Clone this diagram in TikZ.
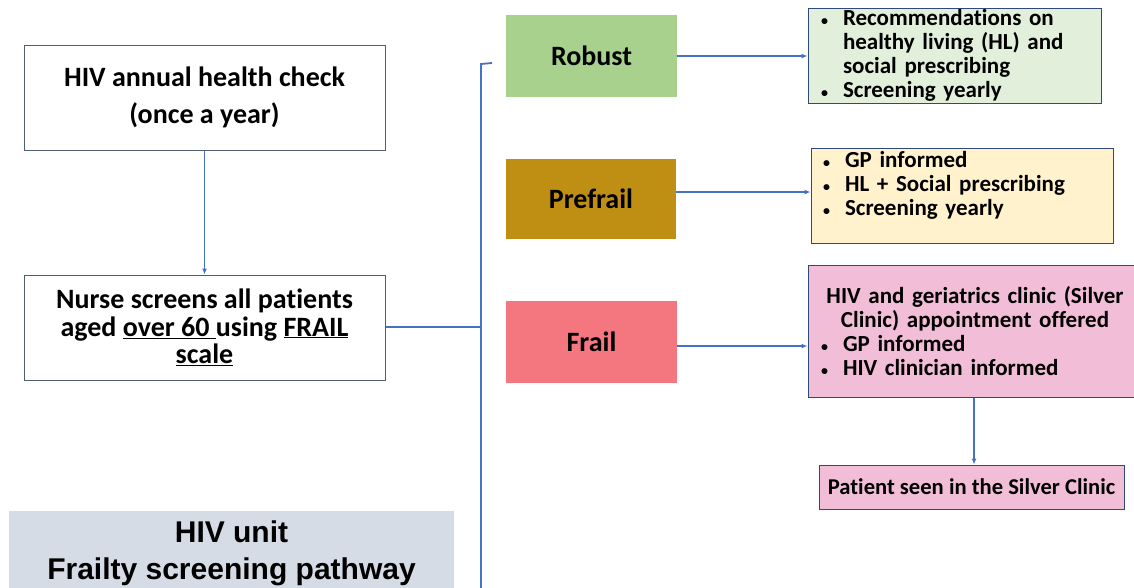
\documentclass[tikz,border=0pt]{standalone}
\usepackage{fontspec}
\setmainfont{Carlito}[Ligatures=NoCommon]
\newfontfamily\titlefont{Liberation Sans}
\usetikzlibrary{arrows.meta,calc}
\definecolor{lineblue}{HTML}{4472C4}
\definecolor{boxgray}{HTML}{4F5F73}
\definecolor{darkedge}{HTML}{2F4A7A}
\definecolor{robfill}{HTML}{A9D18E}
\definecolor{prefill}{HTML}{BF8F14}
\definecolor{frafill}{HTML}{F4777F}
\definecolor{robout}{HTML}{E2EFDA}
\definecolor{preout}{HTML}{FFF2CC}
\definecolor{fraout}{HTML}{F2BDD6}
\definecolor{titlefill}{HTML}{D6DCE5}
\newcommand\bulitem{\makebox[25pt][l]{\hspace*{3pt}{\fontsize{14}{14}\selectfont •}}}
\begin{document}
\begin{tikzpicture}[x=1pt,y=-1pt,
  mainbox/.style={draw=boxgray, line width=1pt, fill=white, minimum width=361pt, minimum height=105pt, inner sep=0pt, align=center, font=\bfseries\fontsize{28}{37}\selectfont},
  catbox/.style={draw=none, inner sep=0pt, minimum width=171pt, minimum height=82pt, font=\bfseries\fontsize{28}{34}\selectfont},
  outbox/.style={draw=darkedge, line width=1pt, inner ysep=0pt, align=left, font=\bfseries\fontsize{23}{24}\selectfont},
  arr/.style={draw=lineblue, line width=1.8pt, -{Latex[length=6pt,width=5pt]}},
  conn/.style={draw=lineblue, line width=1.8pt}
]
\useasboundingbox (0,0) rectangle (1134,587);
\clip (0,0) rectangle (1134,587);

% left boxes
\node[mainbox] (b1) at (204.5,97.5) {HIV annual health check\\(once a year)};
\node[mainbox, font=\bfseries\fontsize{28}{27.5}\selectfont] (b2) at (204.5,327.5) {Nurse screens all patients\\aged \underline{over 60\ }using \underline{FRAIL}\\\underline{scale}};

% title
\node[fill=titlefill, draw=none, minimum width=445pt, minimum height=84pt, inner sep=0pt, align=center, font=\titlefont\bfseries\fontsize{30}{37}\selectfont] (title) at (231.5,553) {HIV unit\\Frailty screening pathway};

% categories
\node[catbox, fill=robfill] (rob) at (591.5,56) {Robust};
\node[catbox, fill=prefill, minimum width=170pt, minimum height=80pt] (pre) at (591,199) {Prefrail};
\node[catbox, fill=frafill] (fra) at (591.5,342) {Frail};

% outcome boxes
\node[outbox, fill=robout, minimum width=293pt, minimum height=95pt, inner xsep=10pt, text width=273pt] (robO) at (954.5,55.5)
  {\bulitem Recommendations on\\\hspace*{25pt}healthy living (HL) and\\\hspace*{25pt}social prescribing\\\bulitem Screening yearly};
\node[outbox, fill=preout, minimum width=302pt, minimum height=95pt, inner xsep=9pt, text width=284pt] (preO) at (962,195.5)
  {\bulitem GP informed\\\bulitem HL + Social prescribing\\\bulitem Screening yearly\\\mbox{}};
\node[outbox, fill=fraout, minimum width=332pt, minimum height=132pt, inner xsep=10pt, text width=312pt] (fraO) at (974,331)
  {\makebox[314pt][c]{HIV and geriatrics clinic (Silver}\\\makebox[314pt][c]{Clinic) appointment offered}\\\bulitem GP informed\\\bulitem HIV clinician informed};
\node[draw=darkedge, line width=1pt, fill=fraout, minimum width=305pt, minimum height=44pt, inner sep=0pt, font=\bfseries\fontsize{22.6}{24}\selectfont] (pat) at (971.5,487) {Patient seen in the Silver Clinic};

% connectors
\coordinate (btop) at (492,63);
\coordinate (bcorner) at (481,64);
\coordinate (bjoin) at (481,327);
\coordinate (bbot) at (481,592);

\draw[arr] (b1.south) -- (b2.north);
\draw[conn] (b2.east |- bjoin) -- (bjoin);
\draw[conn] (btop) -- (bcorner) -- (bbot);
\draw[arr] (rob.east) -- (rob.east -| robO.west);
\draw[arr] ([yshift=7pt]pre.east) -- ([yshift=7pt]pre.east -| preO.west);
\draw[arr] ([yshift=-4pt]fra.east) -- ([yshift=-4pt]fra.east -| fraO.west);
\coordinate (patin) at (pat.north -| fraO.south);
\draw[arr] (fraO.south) -- (patin);
\end{tikzpicture}
\end{document}
